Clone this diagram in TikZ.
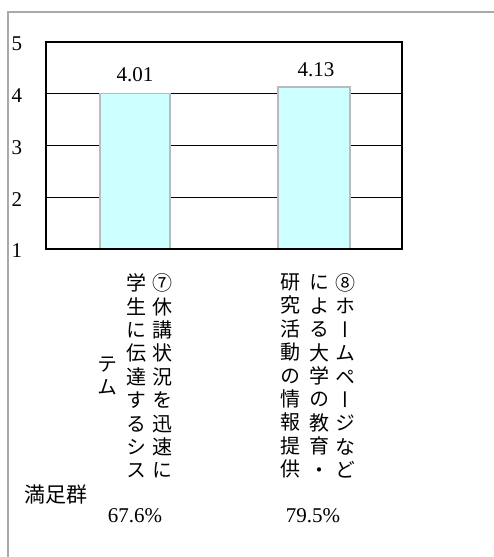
\documentclass[tikz,border=0pt]{standalone}
\usepackage{fontspec}
\setmainfont{Liberation Serif}
\newfontfamily\jpfont{Noto Sans CJK JP}
\newfontfamily\jpvert[RawFeature=+vert]{Noto Sans CJK JP}
\definecolor{barfill}{HTML}{CCFFFF}
\definecolor{barline}{HTML}{BBBBBB}
\definecolor{boxline}{HTML}{AAAAAA}
\tikzset{
  vtext/.style={align=center, inner sep=0pt, font=\jpvert\fontsize{20}{23.4}\selectfont},
  numtext/.style={inner sep=0pt, font=\fontsize{21}{21}\selectfont},
  grid line/.style={draw=black, line width=1.4pt},
  bar/.style={draw=barline, fill=barfill, line width=1.2pt}
}
\newcommand{\ticklabel}{\node[numtext]}
\newcommand{\vcol}{\node[vtext]}

\begin{document}
\begin{tikzpicture}[x=1pt, y=-1pt]
\useasboundingbox (0,0) rectangle (494,557);
% outer box
\draw[boxline, line width=1.5pt] (494,12) -- (8,12) -- (8,557);
% grid
\foreach \v in {2,3,4}
  \draw[grid line] (46,{249-(\v-1)*51.75}) -- (402,{249-(\v-1)*51.75});
% bars
\draw[bar] (100,249) rectangle (170,93.2);
\draw[bar] (278,249) rectangle (350,87);
% plot frame
\draw[black, line width=1.8pt] (46,42) rectangle (402,249);
% axis
\ticklabel (y5) at (17,44) {5};
\ticklabel (y4) at (17,96) {4};
\ticklabel (y3) at (17,148) {3};
\ticklabel (y2) at (17,199.5) {2};
\ticklabel (y1) at (17,251) {1};
% values
\ticklabel (v1) at (135,75) {4.01};
\ticklabel (v2) at (316,70) {4.13};
% item labels
\vcol (a1) at (162,376) {⑦\\休\\講\\状\\況\\を\\迅\\速\\に};
\vcol (a2) at (136,376) {学\\生\\に\\伝\\達\\す\\る\\シ\\ス};
\vcol (a3) at (107,376) {テ\\ム};
\vcol (b1) at (345,376) {⑧\\ホ\\ー\\ム\\ペ\\ー\\ジ\\な\\ど};
\vcol (b2) at (319,376) {に\\よ\\る\\大\\学\\の\\教\\育\\・};
\vcol (b3) at (290,376) {研\\究\\活\\動\\の\\情\\報\\提\\供};
% rates
\node[inner sep=0pt, font=\jpfont\fontsize{21}{21}\selectfont] (grp) at (56,495) {満足群};
\ticklabel (r1) at (135,516) {67.6\%};
\ticklabel (r2) at (313,516) {79.5\%};
\end{tikzpicture}
\end{document}
